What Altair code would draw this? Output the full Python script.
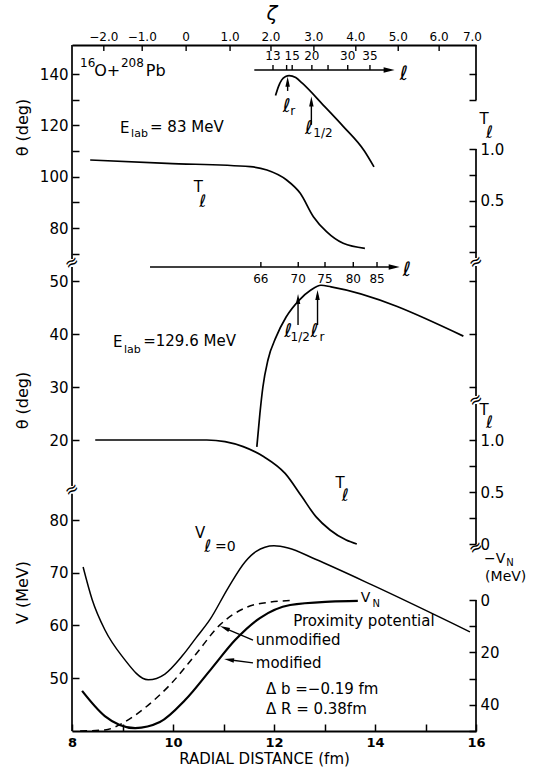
import altair as alt
import pandas as pd

# ---------------- values ----------------
# x : radial distance (fm)
# Panel 1 : 16O + 208Pb, E_lab = 83 MeV  (theta in deg, T_l in 0..1)
p1_defl_r = [12.03, 12.09, 12.15, 12.23, 12.30, 12.43, 12.56, 12.97, 13.37, 13.79, 13.98]
p1_defl_theta = [131.6, 135.2, 137.6, 139.0, 139.4, 138.6, 136.4, 128.0, 119.6, 110.0, 103.8]
p1_T_r = [8.36, 9.88, 11.53, 11.86, 12.25, 12.52, 12.78, 13.04, 13.37, 13.80]
p1_T = [0.893, 0.861, 0.828, 0.796, 0.699, 0.570, 0.343, 0.197, 0.084, 0.036]
p1_l_r = [11.98, 12.25, 12.36, 12.75, 13.07, 13.46, 13.90]
p1_l_labels = ["13", "", "15", "20", "", "30", "35"]

# Panel 2 : E_lab = 129.6 MeV
p2_defl_r = [11.66, 11.72, 11.78, 11.88, 12.04, 12.24, 12.50, 12.73, 12.93, 13.13, 15.75]
p2_defl_theta = [18.7, 24.9, 30.0, 35.1, 39.4, 43.2, 46.4, 48.3, 49.2, 48.9, 39.6]
p2_T_r = [8.46, 10.67, 11.03, 11.39, 11.80, 12.22, 12.55, 12.83, 13.11, 13.43, 13.64]
p2_T = [1.0, 1.0, 0.984, 0.936, 0.839, 0.679, 0.456, 0.263, 0.135, 0.038, 0.0]
p2_l_r = [11.74, 12.48, 13.01, 13.57, 14.04]
p2_l_labels = ["66", "70", "75", "80", "85"]

# Panel 3 : potentials (V in MeV, W = -V_N in MeV)
v0_r = [8.22, 8.40, 8.65, 8.99, 9.51, 9.84, 10.18, 10.46, 10.73, 11.09, 11.43, 11.64, 12.00, 12.28, 12.81, 13.94, 15.88]
v0_V = [71.1, 64.9, 59.2, 54.2, 49.7, 50.8, 54.2, 57.7, 61.1, 67.1, 72.1, 74.0, 75.1, 74.7, 72.6, 67.7, 58.8]
mod_r = [8.20, 8.65, 9.25, 9.74, 10.24, 10.77, 11.23, 11.72, 12.32, 13.11, 13.66]
mod_W = [34.7, 44.3, 48.9, 46.6, 38.2, 26.0, 15.3, 6.9, 1.9, 0.6, 0.3]
unmod_r = [8.16, 8.65, 9.04, 9.44, 9.94, 10.44, 10.93, 11.43, 11.92, 12.32]
unmod_W = [50.0, 49.6, 46.6, 41.2, 32.4, 21.0, 9.5, 3.0, 0.8, 0.2]

# top zeta scale
zeta_labels = ["\u22122.0", "\u22121.0", "0", "1.0", "2.0", "3.0", "4.0", "5.0", "6.0", "7.0"]
zeta_r = [8.63, 9.39, 10.26, 11.13, 11.94, 12.79, 13.62, 14.46, 15.27, 15.93]

# ---------------- layout ----------------
FONT = "DejaVu Sans"
W, H = 404, 686


def ydom(va, ya, vb, yb):
    k = (vb - va) / (yb - ya)
    return [va + (H - ya) * k, va - ya * k]


D_TH1 = ydom(140, 29, 80, 183)
D_T1 = ydom(1.0, 104, 0.0, 207)
D_TH2 = ydom(50, 236, 20, 395)
D_T2 = ydom(1.0, 395, 0.0, 499)
D_V = ydom(80, 475, 40, 686)
D_W = ydom(0, 555, 50, 686)
TOP1 = D_TH1[1]


def X(field="x"):
    return alt.X(f"{field}:Q", scale=alt.Scale(domain=[8, 16], nice=False, zero=False), axis=None)


def Y(dom, field="y", axis=None):
    return alt.Y(f"{field}:Q", scale=alt.Scale(domain=dom, nice=False, zero=False), axis=axis)


def curve(xs, ys, dom, width=1.7, dash=None):
    df = pd.DataFrame({"x": xs, "y": ys})
    kw = dict(color="black", strokeWidth=width, interpolate="monotone")
    if dash:
        kw["strokeDash"] = dash
    return alt.Chart(df).mark_line(**kw).encode(x=X(), y=Y(dom))


def label(texts, xs, ys, dom, size=15, align="left", **kw):
    df = pd.DataFrame({"x": xs, "y": ys, "t": texts})
    return alt.Chart(df).mark_text(font=FONT, fontSize=size, align=align, baseline="middle",
                                   color="black", **kw).encode(x=X(), y=Y(dom), text="t:N")


def segs(x1, y1, x2, y2, dom, width=1.7):
    df = pd.DataFrame({"x": x1, "y": y1, "x2": x2, "y2": y2})
    return alt.Chart(df).mark_rule(color="black", strokeWidth=width).encode(
        x=X(), y=Y(dom), x2="x2:Q", y2="y2:Q")


def heads(xs, ys, dom, shape, size, angle=0):
    df = pd.DataFrame({"x": xs, "y": ys})
    return alt.Chart(df).mark_point(shape=shape, size=size, filled=True, color="black",
                                    opacity=1, angle=angle, strokeWidth=0).encode(x=X(), y=Y(dom))


AX = dict(domain=False, grid=False, ticks=True, tickSize=7, offset=-7, tickColor="black",
          tickWidth=1.5, labelFont=FONT, labelFontSize=15, labelColor="black", labelPadding=4,
          labelOverlap=False, labelBound=False, labelFlush=False)


def yaxis(dom, orient, values, expr=None, labels=True, title=None, titleY=0):
    ax = dict(AX, orient=orient, values=values, labels=labels)
    if expr:
        ax["labelExpr"] = expr
    if title:
        ax.update(title=title, titleX=-57, titleY=titleY, titleAngle=270, titleAlign="center",
                  titleBaseline="middle", titleFont=FONT, titleFontSize=16,
                  titleFontWeight="normal", titleColor="black")
    else:
        ax["title"] = None
    df = pd.DataFrame({"x": [8.0], "y": [values[0]]})
    return alt.Chart(df).mark_point(opacity=0).encode(x=X(), y=Y(dom, axis=alt.Axis(**ax)))


layers = []

# ---- axes (ticks + labels) ----
layers.append(yaxis(D_TH1, "left", [70, 80, 90, 100, 110, 120, 130, 140],
                    "datum.value % 20 == 0 ? datum.label : ''", title="\u03b8 (deg)", titleY=82))
layers.append(yaxis(D_TH2, "left", [20, 30, 40, 50], title="\u03b8 (deg)", titleY=355))
layers.append(yaxis(D_V, "left", [50, 60, 70, 80], title="V (MeV)", titleY=547))
layers.append(yaxis(D_TH1, "right", [130, 140], labels=False))
layers.append(yaxis(D_T1, "right", [0, 0.25, 0.5, 0.75, 1.0],
                    "datum.value == 1 || datum.value == 0.5 ? format(datum.value, '.1f') : ''"))
layers.append(yaxis(D_TH2, "right", [30, 40, 50], labels=False))
layers.append(yaxis(D_T2, "right", [0, 0.25, 0.5, 0.75, 1.0],
                    "datum.value == 0 ? '0' : (datum.value == 1 || datum.value == 0.5 ? format(datum.value, '.1f') : '')"))
layers.append(yaxis(D_W, "right", [0, 10, 20, 30, 40, 50], "datum.value % 20 == 0 ? datum.label : ''"))

xdf = pd.DataFrame({"x": [8.0], "y": [50.0]})
layers.append(alt.Chart(xdf).mark_point(opacity=0).encode(
    x=alt.X("x:Q", scale=alt.Scale(domain=[8, 16], nice=False, zero=False),
            axis=alt.Axis(orient="bottom", values=list(range(8, 17)),
                          labelExpr="datum.value % 2 == 0 ? datum.label : ''",
                          domain=False, grid=False, tickSize=7, offset=-7, tickColor="black",
                          tickWidth=1.5, labelFont=FONT, labelFontSize=13, labelFontWeight="bold",
                          labelColor="black", labelPadding=5, labelFlush=False,
                          title="RADIAL DISTANCE (fm)", titleFont=FONT, titleFontSize=15,
                          titleFontWeight="normal", titleColor="black", titlePadding=2,
                          titleX=192, titleAlign="center")),
    y=Y(D_V)))
for orient in ["bottom", "top"]:
    layers.append(alt.Chart(xdf).mark_point(opacity=0).encode(
        x=alt.X("x:Q", scale=alt.Scale(domain=[8, 16], nice=False, zero=False),
                axis=alt.Axis(orient=orient, domain=True, domainColor="black", domainWidth=1.8,
                              ticks=False, labels=False, grid=False, title=None)),
        y=Y(D_V)))

# ---- axis lines with breaks ----
layers.append(segs([8, 16], [TOP1, TOP1], [8, 16], [67.9, 129.9], D_TH1))
layers.append(segs([8, 16], [52.64, 52.83], [8, 16], [11.32, 28.3], D_TH2))
layers.append(segs([8], [84.97], [8], [40.0], D_V))
layers.append(segs([16], [1.0], [16], [-0.058], D_T1))
layers.append(segs([16], [1.346], [16], [0.0], D_T2))
layers.append(segs([16], [0.0], [16], [50.0], D_W))
brk = dict(size=17, align="center", angle=330)
layers.append(label(["\u2248"], [8], [66.4], D_TH1, **brk))
layers.append(label(["\u2248"], [8], [85.7], D_V, **brk))
layers.append(label(["\u2248"], [16], [-0.097], D_T1, **brk))
layers.append(label(["\u2248"], [16], [27.55], D_TH2, **brk))
layers.append(label(["\u2248"], [16], [-0.038], D_T2, **brk))

# ---- zeta scale on top ----
layers.append(segs(zeta_r[:-1], [TOP1] * 9, zeta_r[:-1], [TOP1 - 2.3] * 9, D_TH1, width=1.4))
layers.append(label(zeta_labels, zeta_r, [154.4] * 10, D_TH1, size=12, align="center"))
layers.append(label(["\u03b6"], [11.96], [163.4], D_TH1, size=20, align="center", fontStyle="italic"))

# ---- panel 1 ----
layers.append(curve(p1_defl_r, p1_defl_theta, D_TH1))
layers.append(curve(p1_T_r, p1_T, D_T1))
layers.append(segs([11.61], [141.56], [14.28], [141.56], D_TH1, width=1.5))
layers.append(segs(p1_l_r, [141.56] * 7, p1_l_r, [143.5] * 7, D_TH1, width=1.4))
layers.append(heads([14.28], [141.56], D_TH1, "M1,0L-1,-0.5L-1,0.5Z", 121))
layers.append(label(p1_l_labels, p1_l_r, [147.0] * 7, D_TH1, size=12, align="center"))
layers.append(label(["\u2113"], [14.57], [140.0], D_TH1, size=20, align="center"))
layers.append(segs([12.27, 12.74], [133.4, 120.2], [12.27, 12.74], [137.0, 129.3], D_TH1, width=1.4))
layers.append(heads([12.27, 12.74], [137.0, 129.3], D_TH1, "M0,-1L0.45,1L-0.45,1Z", 100))
layers.append(label(["\u2113", "\u2113"], [12.25, 12.69], [127.4, 119.0], D_TH1, size=19, align="center"))
layers.append(label(["r", "1/2"], [12.37, 12.97], [125.6, 117.0], D_TH1, size=12, align="center"))
layers.append(label(["16", "208"], [8.16, 8.97], [144.3, 144.3], D_TH1, size=12))
layers.append(label(["O+", "Pb"], [8.44, 9.46], [141.0, 141.0], D_TH1, size=16))
layers.append(label(["E", "= 83 MeV"], [8.95, 9.545], [118.96, 119.35], D_TH1, size=15))
layers.append(label(["lab"], [9.17], [116.63], D_TH1, size=11))
layers.append(label(["T"], [10.50], [0.631], D_T1, size=15, align="center"))
layers.append(label(["\u2113"], [10.59], [0.487], D_T1, size=17, align="center"))
layers.append(label(["T"], [16.16], [1.29], D_T1, size=15, align="center"))
layers.append(label(["\u2113"], [16.27], [1.155], D_T1, size=17, align="center"))

# ---- panel 2 ----
layers.append(curve(p2_defl_r, p2_defl_theta, D_TH2))
layers.append(curve(p2_T_r, p2_T, D_T2))
layers.append(segs([9.545], [52.64], [14.38], [52.64], D_TH2, width=1.5))
layers.append(segs(p2_l_r, [52.64] * 5, p2_l_r, [53.6] * 5, D_TH2, width=1.4))
layers.append(heads([14.38], [52.64], D_TH2, "M1,0L-1,-0.5L-1,0.5Z", 121))
layers.append(label(p2_l_labels, p2_l_r, [50.38] * 5, D_TH2, size=12, align="center"))
layers.append(label(["\u2113"], [14.63], [52.08], D_TH2, size=20, align="center"))
layers.append(segs([12.476, 12.862], [41.7, 41.7], [12.476, 12.862], [46.6, 47.36], D_TH2, width=1.4))
layers.append(heads([12.476, 12.862], [46.6, 47.36], D_TH2, "M0,-1L0.45,1L-0.45,1Z", 100))
layers.append(label(["\u2113", "\u2113"], [12.28, 12.80], [40.57, 40.57], D_TH2, size=19, align="center"))
layers.append(label(["1/2", "r"], [12.52, 12.95], [39.43, 39.43], D_TH2, size=12, align="center"))
layers.append(label(["E", "=129.6 MeV"], [8.81, 9.41], [38.49, 38.68], D_TH2, size=15))
layers.append(label(["lab"], [9.03], [36.98], D_TH2, size=11))
layers.append(label(["T"], [13.31], [0.587], D_T2, size=15, align="center"))
layers.append(label(["\u2113"], [13.41], [0.463], D_T2, size=17, align="center"))
layers.append(label(["T"], [16.16], [1.29], D_T2, size=15, align="center"))
layers.append(label(["\u2113"], [16.27], [1.16], D_T2, size=17, align="center"))

# ---- panel 3 ----
layers.append(curve(v0_r, v0_V, D_V, width=1.5))
layers.append(curve(mod_r, mod_W, D_W, width=2.2))
layers.append(curve(unmod_r, unmod_W, D_W, width=1.5, dash=[7, 5]))
layers.append(label(["V"], [10.535], [77.57], D_V, size=15, align="center"))
layers.append(label(["\u2113"], [10.69], [74.91], D_V, size=17, align="center"))
layers.append(label(["=0"], [10.83], [74.91], D_V, size=14))
layers.append(label(["V"], [13.72], [-0.6], D_W, size=14))
layers.append(label(["N"], [13.95], [1.7], D_W, size=10))
layers.append(label(["Proximity potential"], [13.78], [8.0], D_W, size=15, align="center"))
layers.append(label(["unmodified", "modified"], [11.64, 11.64], [15.3, 24.0], D_W, size=15))
layers.append(label(["\u0394 b =\u22120.19 fm", "\u0394 R =  0.38fm"], [11.84, 11.84], [34.0, 41.6], D_W, size=15))
layers.append(segs([11.022, 11.109], [10.7, 22.8], [11.584, 11.584], [15.3, 24.0], D_W, width=1.3))
layers.append(heads([11.022], [10.7], D_W, "M-1,0L1,-0.45L1,0.45Z", 100, angle=23))
layers.append(heads([11.109], [22.8], D_W, "M-1,0L1,-0.45L1,0.45Z", 100, angle=8))
layers.append(label(["\u2212V"], [16.16], [-15.6], D_W, size=14))
layers.append(label(["N"], [16.60], [-14.0], D_W, size=10))
layers.append(label(["(MeV)"], [16.18], [-8.8], D_W, size=14))

chart = alt.layer(*layers).resolve_scale(y="independent").resolve_axis(
    x="independent", y="independent"
).properties(
    width=W, height=H,
    padding={"left": 72, "top": 45, "right": 73, "bottom": 38},
    autosize=alt.AutoSizeParams(type="none"),
    background="white",
).configure_view(stroke=None)

chart.save("out.html", embed_options={"renderer": "svg", "actions": False})
